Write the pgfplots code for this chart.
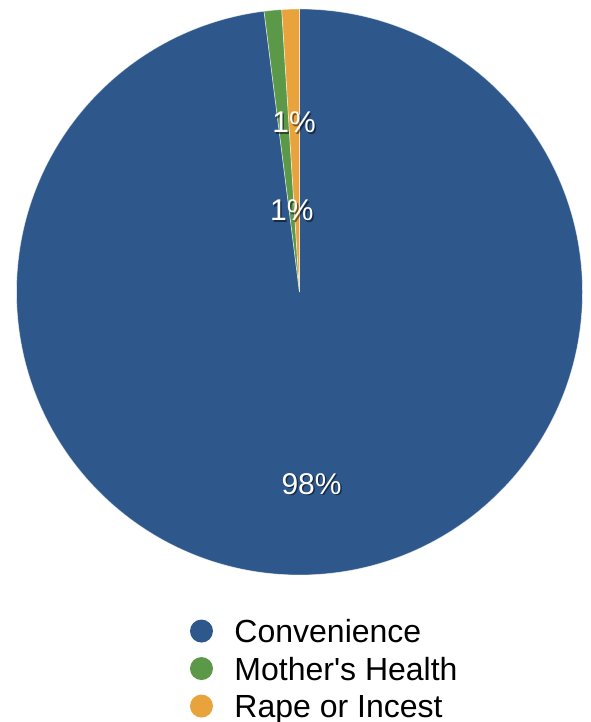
\documentclass[border=0pt]{standalone}
\usepackage{pgfplots}
\usepackage{pgfplotstable}
\usepackage{fontspec}
\setmainfont{Liberation Sans}[Ligatures=TeXOff]
\pgfplotsset{compat=1.18}
\definecolor{cblue}{RGB}{46,88,139}
\definecolor{cgreen}{RGB}{91,152,72}
\definecolor{corange}{RGB}{233,163,60}
\pgfplotstableread[col sep=comma]{
name,value,color,dist
Convenience,98,cblue,0.68
Mother's Health,1,cgreen,0.29
Rape or Incest,1,corange,0.60
}\piedata
\begin{document}
\begin{tikzpicture}
\useasboundingbox (0pt,0pt) rectangle (590pt,722pt);
\begin{axis}[at={(0pt,0pt)}, anchor=south west, scale only axis,
  width=590pt, height=722pt, xmin=0, xmax=590, ymin=0, ymax=722,
  hide axis, clip=false,
  legend style={at={(0.322,0.065)}, anchor=west, draw=none, fill=none,
    inner sep=0pt, outer sep=0pt, row sep=0pt,
    font=\fontsize{32}{37}\selectfont,
    nodes={inner sep=0pt, text height=24pt, text depth=13.5pt}},
  legend cell align=left,
  legend image code/.code={\fill[#1, draw=none] (0pt,6.5pt) circle (11.5pt); \path[draw=none, fill=none] (-11.5pt,0pt) -- (33pt,0pt);},
]
\addlegendimage{fill=cblue}
\addlegendentry{Convenience}
\addlegendimage{fill=cgreen}
\addlegendentry{Mother's Health}
\addlegendimage{fill=corange}
\addlegendentry{Rape or Incest}
\pgfplotsextra{
  \pgfplotstablegetrowsof{\piedata}\let\nrows\pgfplotsretval
  \pgfmathtruncatemacro\lastrow{\nrows-1}
  \xdef\startang{90}
  \foreach \i in {0,...,\lastrow} {
    \pgfplotstablegetelem{\i}{value}\of\piedata \let\val\pgfplotsretval
    \pgfplotstablegetelem{\i}{color}\of\piedata \let\slicecol\pgfplotsretval
    \pgfmathsetmacro\endang{\startang - \val*3.6}
    \fill[fill=\slicecol, draw=white, draw opacity=0.55, line width=0.7pt]
      (axis cs:299.5,430) -- ++(\startang:283pt) arc[start angle=\startang, end angle=\endang, radius=283pt] -- cycle;
    \xdef\startang{\endang}
  }
  \xdef\startang{90}
  \foreach \i in {0,...,\lastrow} {
    \pgfplotstablegetelem{\i}{value}\of\piedata \let\val\pgfplotsretval
    \pgfplotstablegetelem{\i}{dist}\of\piedata \let\dd\pgfplotsretval
    \pgfmathsetmacro\endang{\startang - \val*3.6}
    \pgfmathsetmacro\midang{(\startang+\endang)/2}
    \pgfmathsetmacro\rr{\dd*283}
    \path (axis cs:299.5,430) ++(\midang:\rr pt)
      node[text=black, opacity=0.5, shift={(1.5pt,-1.5pt)}, font=\fontsize{30}{36}\selectfont] {\pgfmathprintnumber[fixed,precision=0,assume math mode=true]{\val}\%}
      node[text=white, font=\fontsize{30}{36}\selectfont] {\pgfmathprintnumber[fixed,precision=0,assume math mode=true]{\val}\%};
    \xdef\startang{\endang}
  }
}
\end{axis}
\end{tikzpicture}
\end{document}
